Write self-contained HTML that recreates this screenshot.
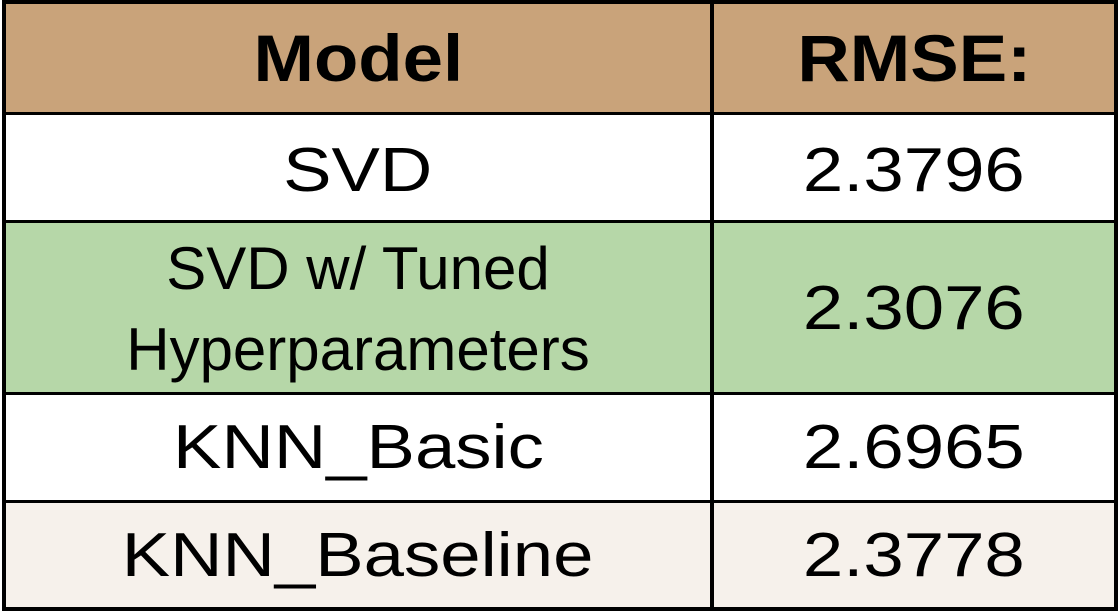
<!DOCTYPE html>
<html><head><meta charset="utf-8"><style>
body{margin:0;width:1120px;height:614px;background:#fff;overflow:hidden;font-family:"Liberation Sans",Arial,sans-serif;}
.c{position:absolute;display:flex;align-items:center;justify-content:center;text-align:center;color:#000;}
.c span{display:inline-block;white-space:nowrap;}
.h{background:#C9A37A;font-weight:bold;font-size:66px;}
.h span{transform:scaleX(1.1);}
.b{font-size:62px;}
.b span.s{transform:scaleX(1.17);}
.l{position:absolute;background:#000;}
</style></head><body>
<div>
<div class="c h" style="left:6px;top:3px;width:704px;height:109px;"><span>Model</span></div>
<div class="c h" style="left:714px;top:3px;width:400px;height:109px;"><span>RMSE:</span></div>
<div class="c b" style="left:6px;top:115px;width:704px;height:110px;"><span class="s">SVD</span></div>
<div class="c b" style="left:714px;top:115px;width:400px;height:110px;"><span class="s">2.3796</span></div>
<div class="c b" style="left:6px;top:223px;width:704px;height:171px;background:#B6D7A8;font-size:60px;line-height:81px;"><span>SVD w/ Tuned<br>Hyperparameters</span></div>
<div class="c b" style="left:714px;top:223px;width:400px;height:171px;background:#B6D7A8;"><span class="s">2.3076</span></div>
<div class="c b" style="left:6px;top:395px;width:704px;height:105px;"><span class="s">KNN_Basic</span></div>
<div class="c b" style="left:714px;top:395px;width:400px;height:105px;"><span class="s">2.6965</span></div>
<div class="c b" style="left:6px;top:503px;width:704px;height:104px;background:#F6F1EB;"><span class="s">KNN_Baseline</span></div>
<div class="c b" style="left:714px;top:503px;width:400px;height:104px;background:#F6F1EB;"><span class="s">2.3778</span></div>
<div class="l" style="left:2px;top:0;width:1116px;height:4px;"></div>
<div class="l" style="left:2px;top:607px;width:1116px;height:4px;"></div>
<div class="l" style="left:2px;top:0;width:4px;height:611px;"></div>
<div class="l" style="left:1114px;top:0;width:4px;height:611px;"></div>
<div class="l" style="left:710px;top:0;width:4px;height:611px;"></div>
<div class="l" style="left:2px;top:112px;width:1116px;height:3px;"></div>
<div class="l" style="left:2px;top:220px;width:1116px;height:3px;"></div>
<div class="l" style="left:2px;top:392px;width:1116px;height:3px;"></div>
<div class="l" style="left:2px;top:500px;width:1116px;height:3px;"></div>
</div>
</body></html>
